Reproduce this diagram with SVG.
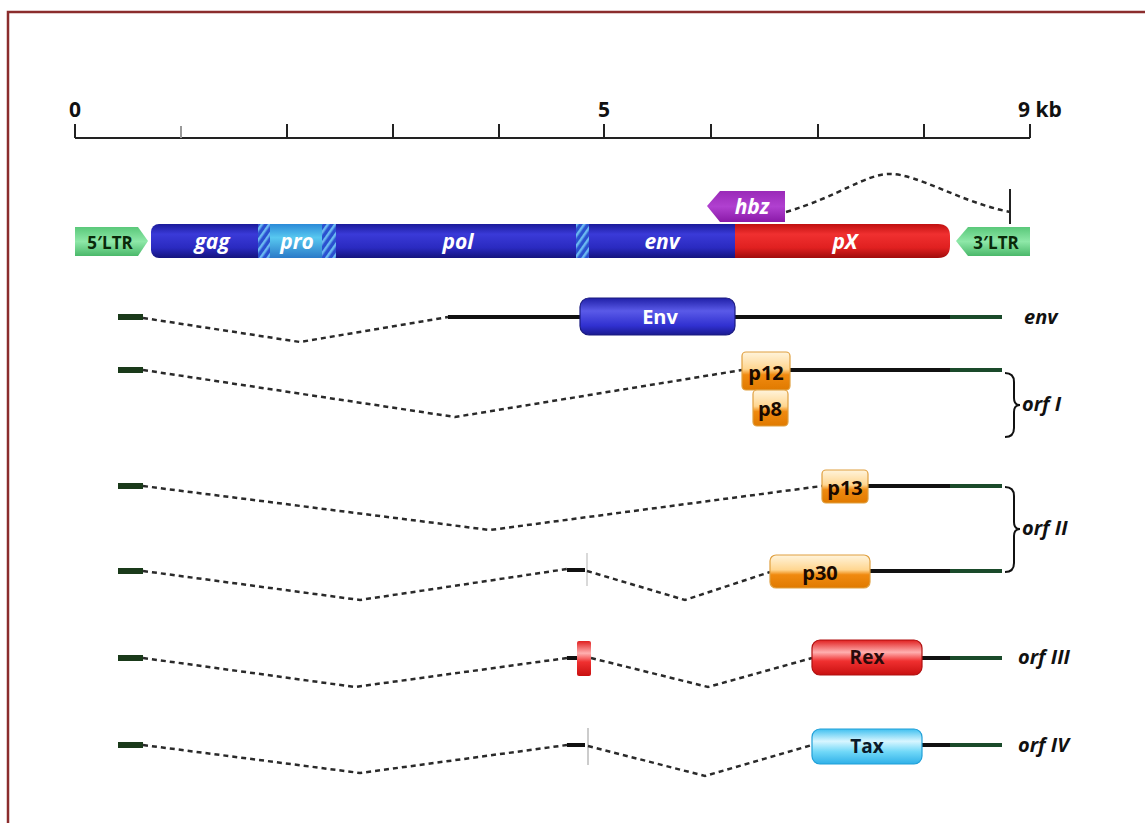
<svg xmlns="http://www.w3.org/2000/svg" width="1145" height="823" viewBox="0 0 1145 823">
<defs>
<linearGradient id="gBlue" x1="0" y1="0" x2="0" y2="1">
<stop offset="0" stop-color="#1a1a9a"/><stop offset="0.3" stop-color="#3a3ad8"/><stop offset="0.7" stop-color="#2a2ac0"/><stop offset="1" stop-color="#14147e"/>
</linearGradient>
<linearGradient id="gRed" x1="0" y1="0" x2="0" y2="1">
<stop offset="0" stop-color="#c01010"/><stop offset="0.3" stop-color="#f03030"/><stop offset="0.7" stop-color="#e02020"/><stop offset="1" stop-color="#a00c0c"/>
</linearGradient>
<linearGradient id="gPro" x1="0" y1="0" x2="0" y2="1">
<stop offset="0" stop-color="#2a8ad8"/><stop offset="0.4" stop-color="#58c8f0"/><stop offset="1" stop-color="#2a7ac8"/>
</linearGradient>
<linearGradient id="gGreen" x1="0" y1="0" x2="0" y2="1">
<stop offset="0" stop-color="#5ac87a"/><stop offset="0.5" stop-color="#8ee8a8"/><stop offset="1" stop-color="#4ab86a"/>
</linearGradient>
<linearGradient id="gPurple" x1="0" y1="0" x2="0" y2="1">
<stop offset="0" stop-color="#9a2ab8"/><stop offset="0.5" stop-color="#b040d0"/><stop offset="1" stop-color="#8a1aa8"/>
</linearGradient>
<linearGradient id="gEnv" x1="0" y1="0" x2="0" y2="1">
<stop offset="0" stop-color="#2020a8"/><stop offset="0.35" stop-color="#5a5ae8"/><stop offset="0.75" stop-color="#3030d0"/><stop offset="1" stop-color="#1a1a90"/>
</linearGradient>
<linearGradient id="gOrange" x1="0" y1="0" x2="0" y2="1">
<stop offset="0" stop-color="#fff4dc"/><stop offset="0.45" stop-color="#ffd690"/><stop offset="0.6" stop-color="#f08a10"/><stop offset="1" stop-color="#e07a00"/>
</linearGradient>
<linearGradient id="gRex" x1="0" y1="0" x2="0" y2="1">
<stop offset="0" stop-color="#e02020"/><stop offset="0.35" stop-color="#ffb0b0"/><stop offset="0.6" stop-color="#f03030"/><stop offset="1" stop-color="#c81010"/>
</linearGradient>
<linearGradient id="gTax" x1="0" y1="0" x2="0" y2="1">
<stop offset="0" stop-color="#40c0f0"/><stop offset="0.35" stop-color="#d8f6ff"/><stop offset="0.65" stop-color="#70d8f8"/><stop offset="1" stop-color="#30b0e8"/>
</linearGradient>
<pattern id="hatch" width="6" height="6" patternUnits="userSpaceOnUse" patternTransform="rotate(35)">
<rect width="6" height="6" fill="#2a50d0"/><rect width="2.5" height="6" fill="#6ab8f0"/>
</pattern>
</defs>
<style>
.lbl{font-family:"Open Sans","DejaVu Sans",sans-serif;font-weight:700}
.gl{font-family:"Open Sans","DejaVu Sans",sans-serif;font-weight:700;font-style:italic;fill:#fff;font-size:21px}
.orf{font-family:"Open Sans","DejaVu Sans",sans-serif;font-weight:700;font-style:italic;fill:#111;font-size:20px}
.dash{fill:none;stroke:#2a2a2a;stroke-width:2.5;stroke-dasharray:5 4}
.solid{stroke:#111;stroke-width:4}
.utr{fill:#1a3a1a}
.gtail{stroke:#1a4a2a;stroke-width:4}
.box{stroke-width:1.2}
</style>
<rect x="8" y="12" width="1150" height="830" fill="#fff" stroke="#8b2d2d" stroke-width="2.5"/>

<g id="scale">
<line x1="75" y1="138" x2="1030" y2="138" stroke="#222" stroke-width="2"/>
<g stroke="#222" stroke-width="2">
<line x1="75" y1="124" x2="75" y2="138"/><line x1="181" y1="126" x2="181" y2="138" stroke="#999"/><line x1="287" y1="124" x2="287" y2="138"/><line x1="393" y1="124" x2="393" y2="138"/><line x1="499" y1="124" x2="499" y2="138"/><line x1="604" y1="124" x2="604" y2="138"/><line x1="711" y1="124" x2="711" y2="138"/><line x1="818" y1="124" x2="818" y2="138"/><line x1="924" y1="124" x2="924" y2="138"/><line x1="1030" y1="124" x2="1030" y2="138"/>
</g>
<text class="lbl" x="75" y="117" font-size="21" text-anchor="middle" fill="#111">0</text>
<text class="lbl" x="604" y="117" font-size="21" text-anchor="middle" fill="#111">5</text>
<text class="lbl" x="1018" y="117" font-size="21" fill="#111">9 kb</text>
</g>

<g id="genome">
<path d="M75,227 H138 L148,241 L138,256 H75 Z" fill="url(#gGreen)"/>
<text class="lbl" x="110" y="249" font-size="17" text-anchor="middle" fill="#0a2a0a">5′LTR</text>
<rect x="151" y="224" width="600" height="34" rx="8" fill="url(#gBlue)"/>
<path d="M735,224 H938 Q950,224 950,236 V246 Q950,258 938,258 H735 Z" fill="url(#gRed)"/>
<rect x="258" y="224" width="12" height="34" fill="url(#hatch)"/>
<rect x="270" y="224" width="52" height="34" fill="url(#gPro)"/>
<rect x="322" y="224" width="14" height="34" fill="url(#hatch)"/>
<rect x="576" y="224" width="13" height="34" fill="url(#hatch)"/>
<text class="gl" x="212" y="249" text-anchor="middle">gag</text>
<text class="gl" x="297" y="249" text-anchor="middle">pro</text>
<text class="gl" x="458" y="249" text-anchor="middle">pol</text>
<text class="gl" x="662" y="249" text-anchor="middle">env</text>
<text class="gl" x="845" y="249" text-anchor="middle">pX</text>
<path d="M1030,227 H968 L956,241 L968,256 H1030 Z" fill="url(#gGreen)"/>
<text class="lbl" x="996" y="249" font-size="17" text-anchor="middle" fill="#0a2a0a">3′LTR</text>
</g>

<g id="hbz">
<path d="M785,191 H720 L707,206 L720,222 H785 Z" fill="url(#gPurple)"/>
<text class="gl" x="752" y="214" text-anchor="middle">hbz</text>
</g>

<g id="connectors">
<path class="dash" d="M786,212 C840,196 865,174 890,174 C918,174 960,202 1010,212"/>
<line x1="1010" y1="189" x2="1010" y2="224" stroke="#222" stroke-width="2"/>
<!-- env -->
<rect class="utr" x="118" y="314" width="25" height="6"/>
<path class="dash" d="M143,318 L300,342 L448,317"/>
<line class="solid" x1="448" y1="317" x2="950" y2="317"/>
<line class="gtail" x1="950" y1="317" x2="1002" y2="317"/>
<!-- orf I -->
<rect class="utr" x="118" y="367" width="25" height="6"/>
<path class="dash" d="M143,370 L455,417 L742,370"/>
<line class="solid" x1="790" y1="370" x2="950" y2="370"/>
<line class="gtail" x1="950" y1="370" x2="1002" y2="370"/>
<!-- p13 -->
<rect class="utr" x="118" y="483" width="25" height="6"/>
<path class="dash" d="M143,486 L490,530 L822,486"/>
<line class="solid" x1="868" y1="486" x2="950" y2="486"/>
<line class="gtail" x1="950" y1="486" x2="1002" y2="486"/>
<!-- p30 -->
<rect class="utr" x="118" y="568" width="25" height="6"/>
<path class="dash" d="M143,571 L360,600 L567,569"/>
<line class="solid" x1="567" y1="570" x2="585" y2="570"/>
<line x1="587" y1="553" x2="587" y2="586" stroke="#ccc" stroke-width="1.5"/>
<path class="dash" d="M587,571 L685,600 L770,572"/>
<line class="solid" x1="870" y1="571" x2="950" y2="571"/>
<line class="gtail" x1="950" y1="571" x2="1002" y2="571"/>
<!-- orf III -->
<rect class="utr" x="118" y="655" width="25" height="6"/>
<path class="dash" d="M143,658 L355,687 L567,658"/>
<line class="solid" x1="567" y1="658" x2="578" y2="658"/>
<path class="dash" d="M591,658 L708,687 L812,658"/>
<line class="solid" x1="922" y1="658" x2="950" y2="658"/>
<line class="gtail" x1="950" y1="658" x2="1002" y2="658"/>
<!-- orf IV -->
<rect class="utr" x="118" y="742" width="25" height="6"/>
<path class="dash" d="M143,745 L360,773 L567,745"/>
<line class="solid" x1="567" y1="745" x2="585" y2="745"/>
<line x1="588" y1="728" x2="588" y2="765" stroke="#bbb" stroke-width="1.5"/>
<path class="dash" d="M588,746 L705,776 L812,745"/>
<line class="solid" x1="922" y1="745" x2="950" y2="745"/>
<line class="gtail" x1="950" y1="745" x2="1002" y2="745"/>
<!-- braces -->
<path d="M1005,373 Q1014,373 1014,382 V398 Q1014,405 1020,405 Q1014,405 1014,412 V428 Q1014,437 1005,437" fill="none" stroke="#111" stroke-width="2"/>
<path d="M1005,487 Q1014,487 1014,496 V522 Q1014,529 1020,529 Q1014,529 1014,536 V563 Q1014,572 1005,572" fill="none" stroke="#111" stroke-width="2"/>
</g>

<g id="Env">
<rect class="box" x="580" y="298" width="155" height="37" rx="9" fill="url(#gEnv)" stroke="#1a1a80"/>
<text class="lbl" x="660" y="324" font-size="20" text-anchor="middle" fill="#fff">Env</text>
</g>
<g id="p12">
<rect class="box" x="742" y="352" width="48" height="38" rx="4" fill="url(#gOrange)" stroke="#e0a040"/>
<text class="lbl" x="766" y="380" font-size="20" text-anchor="middle" fill="#1a0a00">p12</text>
</g>
<g id="p8">
<rect class="box" x="753" y="390" width="35" height="36" rx="4" fill="url(#gOrange)" stroke="#e0a040"/>
<text class="lbl" x="770" y="416" font-size="20" text-anchor="middle" fill="#1a0a00">p8</text>
</g>
<g id="p13">
<rect class="box" x="822" y="470" width="46" height="33" rx="4" fill="url(#gOrange)" stroke="#e0a040"/>
<text class="lbl" x="845" y="495" font-size="20" text-anchor="middle" fill="#1a0a00">p13</text>
</g>
<g id="p30">
<rect class="box" x="770" y="555" width="100" height="33" rx="6" fill="url(#gOrange)" stroke="#e0a040"/>
<text class="lbl" x="820" y="580" font-size="20" text-anchor="middle" fill="#1a0a00">p30</text>
</g>
<g id="rexExon">
<rect x="577" y="641" width="14" height="35" rx="2" fill="url(#gRex)"/>
</g>
<g id="Rex">
<rect class="box" x="812" y="640" width="110" height="35" rx="8" fill="url(#gRex)" stroke="#b01010"/>
<text class="lbl" x="867" y="664" font-size="19" text-anchor="middle" fill="#2a0a0a">Rex</text>
</g>
<g id="Tax">
<rect class="box" x="812" y="729" width="110" height="35" rx="8" fill="url(#gTax)" stroke="#20a0d8"/>
<text class="lbl" x="867" y="753" font-size="19" text-anchor="middle" fill="#0a1a2a">Tax</text>
</g>

<g id="labels">
<text class="orf" x="1024" y="324">env</text>
<text class="orf" x="1022" y="411">orf I</text>
<text class="orf" x="1022" y="535">orf II</text>
<text class="orf" x="1018" y="664">orf III</text>
<text class="orf" x="1018" y="752">orf IV</text>
</g>
</svg>
